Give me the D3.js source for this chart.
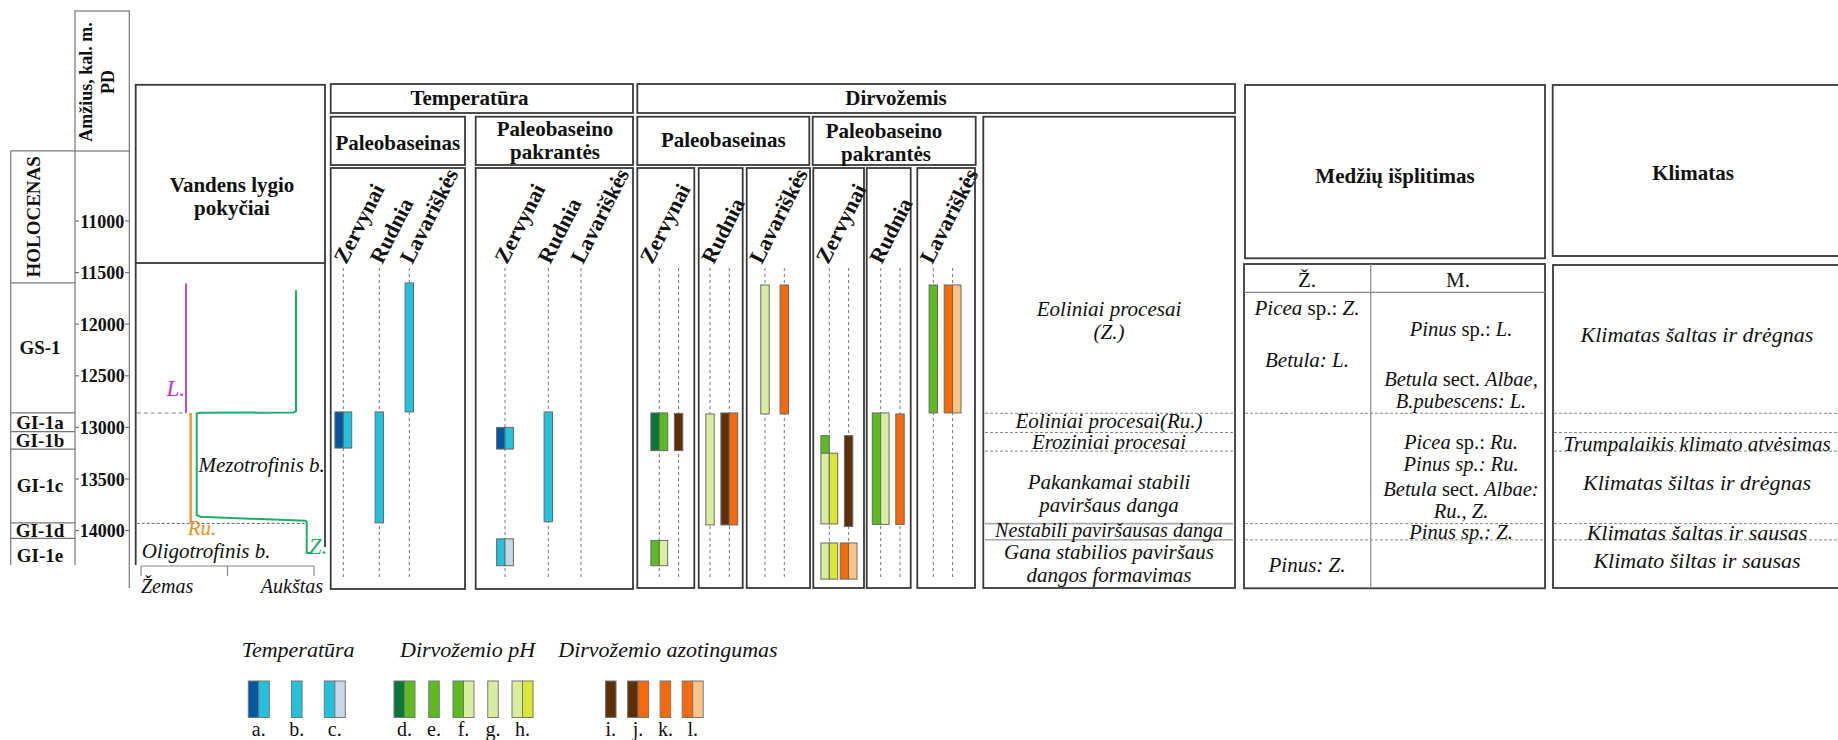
<!DOCTYPE html>
<html>
<head>
<meta charset="utf-8">
<script src="https://cdn.jsdelivr.net/npm/d3@7"></script>
<style>
body { margin: 0; background: #fff; }
svg { display: block; }
text { font-family: "Liberation Serif", "Times New Roman", serif; fill: #111; }
</style>
</head>
<body>
<svg id="chart" width="1838" height="740"></svg>
<script>
// amžiaus skalė ir stadijos
const ageTicks = [11000, 11500, 12000, 12500, 13000, 13500, 14000];
const stageNames = ["HOLOCENAS", "GS-1", "GI-1a", "GI-1b", "GI-1c", "GI-1d", "GI-1e"];
const stageEdges = [10320, 11600, 12860, 13040, 13210, 13925, 14075, 14330];

const sites = ["Zervynai", "Rudnia", "Lavariškės"];

// vandens lygis (0 = žemas, 1 = aukštas)
const levelL = [[11604, 0.26], [12860, 0.26]];
const levelRu = [[12860, 0.287], [13930, 0.287]];
const levelZ = [[11670, 0.896], [12845, 0.896], [12856, 0.88], [12858, 0.34], [12866, 0.322],
  [13850, 0.322], [13866, 0.345], [13905, 0.95], [13915, 0.958], [14218, 0.958], [14218, 0.99]];

// temperatūra
const tempBasin = [
  {site: "Zervynai", code: "a", from: 12850, to: 13200},
  {site: "Rudnia", code: "b", from: 12850, to: 13925},
  {site: "Lavariškės", code: "b", from: 11600, to: 12850}
];
const tempShore = [
  {site: "Zervynai", code: "a", from: 13000, to: 13210},
  {site: "Zervynai", code: "c", from: 14080, to: 14340},
  {site: "Rudnia", code: "b", from: 12850, to: 13915}
];

// dirvožemis: pH ir azotingumas
const soilBasin = [
  {site: "Zervynai", kind: "pH", code: "d", from: 12860, to: 13225},
  {site: "Zervynai", kind: "N", code: "i", from: 12865, to: 13225},
  {site: "Zervynai", kind: "pH", code: "f", from: 14095, to: 14340},
  {site: "Rudnia", kind: "pH", code: "g", from: 12870, to: 13945},
  {site: "Rudnia", kind: "N", code: "j", from: 12860, to: 13945},
  {site: "Lavariškės", kind: "pH", code: "g", from: 11620, to: 12870},
  {site: "Lavariškės", kind: "N", code: "k", from: 11620, to: 12870}
];
const soilShore = [
  {site: "Zervynai", kind: "pH", code: "e", half: "left", from: 13080, to: 13250},
  {site: "Zervynai", kind: "pH", code: "h", from: 13250, to: 13935},
  {site: "Zervynai", kind: "N", code: "i", from: 13080, to: 13960},
  {site: "Zervynai", kind: "pH", code: "h", from: 14120, to: 14470},
  {site: "Zervynai", kind: "N", code: "l", from: 14120, to: 14470},
  {site: "Rudnia", kind: "pH", code: "f", from: 12860, to: 13940},
  {site: "Rudnia", kind: "N", code: "k", from: 12870, to: 13940},
  {site: "Lavariškės", kind: "pH", code: "e", from: 11620, to: 12860},
  {site: "Lavariškės", kind: "N", code: "l", from: 11620, to: 12860}
];

// procesai, medžiai, klimatas
const processBounds = [12863, 13050, 13230, 13932, 14090];
const processTexts = [
  {lines: ["Eoliniai procesai", "(Z.)"], age: 11964},
  {lines: ["Eoliniai procesai(Ru.)"], age: 12938},
  {lines: ["Eroziniai procesai"], age: 13145},
  {lines: ["Pakankamai stabili", "paviršaus danga"], age: 13640},
  {lines: ["Nestabili paviršausas danga"], age: 14000},
  {lines: ["Gana stabilios paviršaus", "dangos formavimas"], age: 14318}
];
const treeBounds = [12863, 13932, 14090];
const treeCols = ["Ž.", "M."];
const treeTextsZ = [
  {lines: ["*Picea* sp.: *Z.*"], age: 11843},
  {lines: ["*Betula: L.*"], age: 12345},
  {lines: ["*Pinus: Z.*"], age: 14330}
];
const treeTextsM = [
  {lines: ["*Pinus* sp.: *L.*"], age: 12053},
  {lines: ["*Betula* sect. *Albae,*", "*B.pubescens: L.*"], age: 12640},
  {lines: ["*Picea* sp.: *Ru.*", "*Pinus sp.: Ru.*"], age: 13250},
  {lines: ["*Betula* sect. *Albae:*", "*Ru., Z.*"], age: 13705},
  {lines: ["*Pinus sp.: Z.*"], age: 14020}
];
const climateBounds = [12863, 13050, 13230, 13932, 14090];
const climateTexts = [
  {lines: ["Klimatas šaltas ir drėgnas"], age: 12102},
  {lines: ["Trumpalaikis klimato atvėsimas"], age: 13165},
  {lines: ["Klimatas šiltas ir drėgnas"], age: 13537},
  {lines: ["Klimatas šaltas ir sausas"], age: 14022},
  {lines: ["Klimato šiltas ir sausas"], age: 14295}
];

// legenda
const legendGroups = ["Temperatūra", "Dirvožemio pH", "Dirvožemio azotingumas"];
const legendCodes = [["a", "b", "c"], ["d", "e", "f", "g", "h"], ["i", "j", "k", "l"]];

const C = {
  dblue: "#0057a2", cyan: "#22c1dd", lgrey: "#c8d8e4",
  dgreen: "#08773a", green: "#5cbb1f", pale: "#d9eda0", yellow: "#dde633",
  brown: "#5e3006", orange: "#f96a06", lorange: "#fdc585"
};
const codeColors = {
  a: [C.dblue, C.cyan], b: [C.cyan], c: [C.cyan, C.lgrey],
  d: [C.dgreen, C.green], e: [C.green], f: [C.green, C.pale], g: [C.pale], h: [C.pale, C.yellow],
  i: [C.brown], j: [C.brown, C.orange], k: [C.orange], l: [C.orange, C.lorange]
};

const svg = d3.select("#chart");
const y = d3.scaleLinear().domain([11000, 14000]).range([221, 530.6]);
const lvl = d3.scaleLinear().domain([0, 1]).range([141, 314]);

function box(x0, y0, x1, y1, stroke, w) {
  svg.append("rect").attr("x", x0).attr("y", y0).attr("width", x1 - x0).attr("height", y1 - y0)
    .attr("fill", "none").attr("stroke", stroke || "#3a3a3a").attr("stroke-width", w || 1.8);
}
function line(x0, y0, x1, y1, stroke, w, dash) {
  svg.append("line").attr("x1", x0).attr("y1", y0).attr("x2", x1).attr("y2", y1)
    .attr("stroke", stroke).attr("stroke-width", w).attr("stroke-dasharray", dash || null);
}
function label(txt, x, yy, size, opts) {
  opts = opts || {};
  return svg.append("text").attr("x", x).attr("y", yy).attr("font-size", size)
    .attr("font-weight", opts.bold ? "bold" : "normal")
    .attr("font-style", opts.italic ? "italic" : "normal")
    .attr("text-anchor", opts.anchor || "middle")
    .attr("transform", opts.rotate ? `rotate(${opts.rotate},${x},${yy})` : null)
    .style("fill", opts.color || "#111")
    .text(txt);
}
// tekstas su *kursyvu*
function richText(lines, x, cy, size, lh, allItalic) {
  const first = cy - (lines.length - 1) * lh / 2 + size * 0.33;
  lines.forEach((ln, i) => {
    const t = svg.append("text").attr("x", x).attr("y", first + i * lh)
      .attr("font-size", size).attr("text-anchor", "middle");
    if (allItalic) { t.attr("font-style", "italic").text(ln); return; }
    ln.split("*").forEach((part, j) => {
      if (part === "") return;
      t.append("tspan").attr("font-style", j % 2 ? "italic" : "normal").text(part);
    });
  });
}

// ---- amžius ir stadijos
box(75, 11, 129.3, 151, "#777", 1.2);
line(75, 151, 75, 565, "#777", 1.2);
line(129.3, 151, 129.3, 588, "#777", 1.2);
label("Amžius, kal. m.", 92, 82, 18, {bold: true, rotate: -90});
label("PD", 114, 82, 18, {bold: true, rotate: -90});
ageTicks.forEach(a => {
  line(75, y(a), 79, y(a), "#777", 1.2);
  line(125, y(a), 129.3, y(a), "#777", 1.2);
  label(a, 102.2, y(a) + 6.5, 18, {bold: true});
});
line(10.7, y(stageEdges[0]), 75, y(stageEdges[0]), "#777", 1.2);
line(10.7, y(stageEdges[0]), 10.7, 565, "#777", 1.2);
stageEdges.slice(1, -1).forEach(a => line(10.7, y(a), 75, y(a), "#777", 1.2));
stageNames.forEach((s, i) => {
  const mid = (y(stageEdges[i]) + y(stageEdges[i + 1])) / 2;
  if (i === 0) label(s, 40.5, mid, 19, {bold: true, rotate: -90});
  else label(s, 40, mid + 6.5 + (i === 6 ? 4 : 0), 19, {bold: true});
});

// ---- vandens lygis
box(135.7, 84.8, 325, 263);
line(135.7, 263, 135.7, 565, "#3a3a3a", 1.8);
line(325, 263, 325, 547, "#3a3a3a", 1.8);
label("Vandens lygio", 232, 192, 21, {bold: true});
label("pokyčiai", 232, 215, 21, {bold: true});
line(136.7, y(levelL[1][0]), lvl(levelL[1][1]), y(levelL[1][0]), "#aaa", 1.6, "4,3");
line(136.7, y(levelRu[1][0]), lvl(0.958), y(levelRu[1][0]), "#666", 1, "3,2");
const lp = d3.line().x(d => lvl(d[1])).y(d => y(d[0]));
svg.append("path").attr("d", lp(levelL)).attr("fill", "none").attr("stroke", "#c64fc8").attr("stroke-width", 2);
svg.append("path").attr("d", lp(levelRu)).attr("fill", "none").attr("stroke", "#f19a38").attr("stroke-width", 2.5);
svg.append("path").attr("d", lp(levelZ)).attr("fill", "none").attr("stroke", "#1fae68").attr("stroke-width", 2);
label("L.", lvl(levelL[1][1]) - 1, y(levelL[1][0]) - 17, 23, {italic: true, anchor: "end", color: "#b43cc0"});
label("Ru.", lvl(levelRu[1][1]) - 3, y(levelRu[1][0]) + 12, 21, {italic: true, anchor: "start", color: "#f0901e"});
label("Z.", lvl(0.97), y(14218) + 1, 23, {italic: true, anchor: "start", color: "#1fae68"});
label("Mezotrofinis b.", lvl(0.332), y(13430), 21, {italic: true, anchor: "start"});
label("Oligotrofinis b.", lvl(0.004), y(14268), 21, {italic: true, anchor: "start"});
line(lvl(0), 566, lvl(1), 566, "#888", 1.2);
[0, 0.5, 1].forEach(v => line(lvl(v), 566, lvl(v), 576, "#888", 1.2));
label("Žemas", lvl(0), 593, 20, {italic: true, anchor: "start"});
label("Aukštas", lvl(1) + 9, 593, 20, {italic: true, anchor: "end"});

// ---- stulpeliai
const bw = 8.4;
function drawBar(d, lx) {
  const cols = codeColors[d.code];
  const y0 = y(d.from), h = y(d.to) - y(d.from);
  const xs = cols.length === 2 ? [lx - bw, lx] : (d.half === "left" ? [lx - bw] : [lx - bw / 2]);
  cols.forEach((c, i) => {
    svg.append("rect").attr("x", xs[i]).attr("y", y0).attr("width", bw).attr("height", h)
      .attr("fill", c).attr("stroke", "#6a6a6a").attr("stroke-width", 1);
  });
}
function dashed(x) { line(x, 268, x, 578, "#777", 1, "3,3"); }
const siteFont = 22, siteRot = -63;

// temperatūra
box(330.7, 84, 633, 113);
label("Temperatūra", 469.5, 105, 21, {bold: true});
box(330.7, 116.7, 465, 165);
label("Paleobaseinas", 397.8, 150, 21, {bold: true});
box(475.7, 116.7, 633, 165);
label("Paleobaseino", 555, 136, 21, {bold: true});
label("pakrantės", 555, 159, 21, {bold: true});
box(330.7, 168, 465, 589);
box(475.7, 168, 633, 589);
const tbX = d3.scaleOrdinal().domain(sites).range([343.3, 379.3, 409.3]);
const tsX = d3.scaleOrdinal().domain(sites).range([505, 548.3, 581]);
sites.forEach(s => {
  dashed(tbX(s)); dashed(tsX(s));
  label(s, tbX(s) + 3, 265, siteFont, {bold: true, anchor: "start", rotate: siteRot});
  label(s, tsX(s) + 2, 265, siteFont, {bold: true, anchor: "start", rotate: siteRot});
});
tempBasin.forEach(d => drawBar(d, tbX(d.site)));
tempShore.forEach(d => drawBar(d, tsX(d.site)));

// dirvožemis
box(637.3, 84, 1235, 113);
label("Dirvožemis", 896, 105, 21, {bold: true});
box(637.3, 116.7, 809.3, 165);
label("Paleobaseinas", 723.3, 147, 21, {bold: true});
box(812.7, 116.7, 975.7, 165);
label("Paleobaseino", 884, 137.5, 21, {bold: true});
label("pakrantės", 886, 161, 21, {bold: true});
const sbBox = d3.scaleOrdinal().domain(sites).range([[637.3, 694.3], [698.7, 742.7], [746.7, 810]]);
const ssBox = d3.scaleOrdinal().domain(sites).range([[813.3, 864], [866.7, 910.7], [917.3, 975]]);
const sbX = d3.scaleOrdinal().domain(sites).range([659.3, 710, 765]);
const ssX = d3.scaleOrdinal().domain(sites).range([829.3, 880.7, 933.3]);
const nGap = 19.3;
sites.forEach(s => {
  [[sbBox, sbX], [ssBox, ssX]].forEach(([bx, lx]) => {
    const b = bx(s);
    box(b[0], 168, b[1], 588);
    dashed(lx(s)); dashed(lx(s) + nGap);
    label(s, b[0] + 15, 265, siteFont, {bold: true, anchor: "start", rotate: siteRot});
  });
});
soilBasin.forEach(d => drawBar(d, sbX(d.site) + (d.kind === "N" ? nGap : 0)));
soilShore.forEach(d => drawBar(d, ssX(d.site) + (d.kind === "N" ? nGap : 0)));

// procesai
box(983.3, 116.7, 1235, 588);
processBounds.forEach((a, i) => {
  if (i < 3) line(985, y(a), 1233, y(a), "#888", 1, "3,2");
  else line(985, y(a), 1233, y(a), i === 3 ? "#aaa" : "#777", i === 3 ? 1.8 : 1);
});
processTexts.forEach((t, i) => richText(t.lines, 1109, y(t.age), i === 4 ? 20 : 21, 23, true));

// medžių išplitimas
box(1245, 85, 1545, 258.3);
label("Medžių išplitimas", 1395, 183, 21, {bold: true});
box(1244, 264, 1545, 588.3);
line(1370.7, 264, 1370.7, 588.3, "#888", 1.2);
line(1244, 292.3, 1545, 292.3, "#888", 1.2);
label(treeCols[0], 1307, 287, 21);
label(treeCols[1], 1458, 287, 21);
treeBounds.forEach(a => line(1245, y(a), 1544, y(a), "#888", 1, "3,2"));
treeTextsZ.forEach(t => richText(t.lines, 1307, y(t.age), 21, 23, false));
treeTextsM.forEach(t => richText(t.lines, 1461, y(t.age), 20.5, 22.5, false));

// klimatas
box(1552.7, 85, 1850, 256);
label("Klimatas", 1693, 180, 21, {bold: true});
box(1553, 265, 1850, 588);
climateBounds.forEach(a => line(1554, y(a), 1838, y(a), "#888", 1, "3,2"));
climateTexts.forEach((t, i) => richText(t.lines, 1697, y(t.age), i === 1 ? 21 : 22, 22, true));

// legenda
const legStart = [258.8, 404.5, 610.8];
const legStep = [38, 29.5, 27.3];
const legTitleX = [241.7, 400, 558.3];
const lw = 10.5;
legendGroups.forEach((g, gi) => {
  label(g, legTitleX[gi], 657, 22, {italic: true, anchor: "start"});
  legendCodes[gi].forEach((c, ci) => {
    const cx = legStart[gi] + ci * legStep[gi];
    const cols = codeColors[c];
    const x0 = cx - cols.length * lw / 2;
    cols.forEach((col, k) => {
      svg.append("rect").attr("x", x0 + k * lw).attr("y", 681).attr("width", lw).attr("height", 36.5)
        .attr("fill", col).attr("stroke", "#777").attr("stroke-width", 1);
    });
    label(c + ".", cx, 736, 20);
  });
});
</script>
</body>
</html>
